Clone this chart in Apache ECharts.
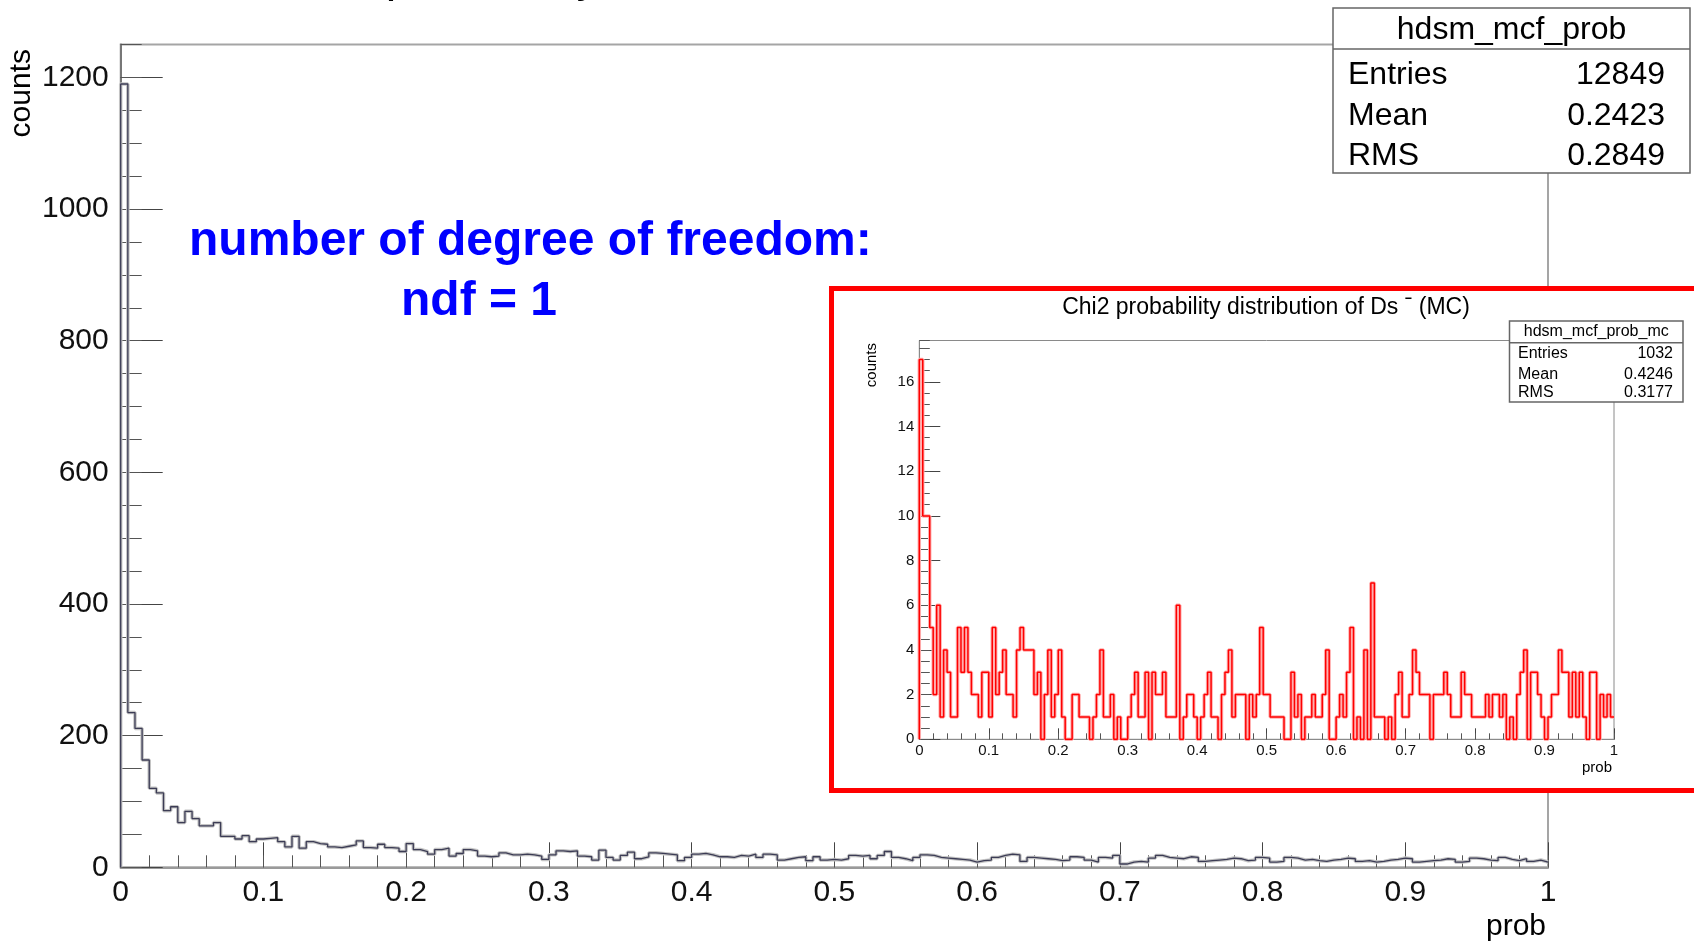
<!DOCTYPE html>
<html>
<head>
<meta charset="utf-8">
<script src="https://cdn.jsdelivr.net/npm/echarts@6/dist/echarts.min.js"></script>
<style>
html,body{margin:0;padding:0;background:#fff;}
#c{width:1694px;height:942px;}
</style>
</head>
<body>
<div id="c"></div>
<script>
// ---------------- data ----------------
const xRange = [0, 1];
const binCount = 200;

// main histogram: hdsm_mcf_prob (200 bins of 0.005)
const mainCounts = [
  1190, 235, 211, 163, 120, 113, 86, 92, 68, 85,
  74, 63, 63, 68, 47, 47, 43, 48, 39, 43,
  44, 45, 39, 31, 47, 29, 39, 36, 35, 31,
  30, 32, 34, 40, 30, 29, 35, 30, 29, 24,
  36, 27, 24, 20, 27, 29, 17, 21, 27, 25,
  17, 16, 17, 22, 19, 19, 20, 19, 17, 12,
  19, 25, 24, 25, 17, 16, 11, 26, 15, 11,
  18, 23, 13, 16, 22, 21, 20, 19, 10, 15,
  20, 21, 19, 16, 16, 15, 18, 17, 20, 15,
  20, 19, 11, 13, 15, 16, 10, 16, 11, 12,
  11, 13, 18, 17, 18, 13, 18, 24, 15, 13,
  10, 15, 19, 18, 15, 14, 13, 12, 11, 8,
  10, 11, 15, 18, 20, 19, 9, 15, 14, 13,
  12, 10, 11, 16, 15, 11, 8, 15, 14, 18,
  5, 8, 9, 8, 14, 18, 15, 14, 13, 16,
  15, 9, 10, 11, 12, 14, 13, 10, 11, 15,
  14, 8, 9, 15, 14, 11, 12, 10, 9, 11,
  12, 14, 13, 9, 10, 8, 9, 11, 12, 14,
  13, 8, 9, 10, 11, 13, 12, 8, 9, 14,
  13, 11, 10, 15, 12, 10, 13, 9, 11, 8
];

// inset histogram: hdsm_mcf_prob_mc (200 bins of 0.005)
const insetCounts = [
  17, 10, 10, 5, 2, 6, 1, 4, 3, 1,
  1, 5, 3, 5, 3, 2, 2, 1, 3, 3,
  1, 5, 2, 3, 4, 2, 2, 1, 4, 5,
  4, 4, 4, 2, 3, 0, 2, 4, 1, 2,
  4, 1, 0, 0, 2, 2, 1, 1, 1, 0,
  1, 2, 4, 1, 1, 2, 0, 1, 0, 0,
  1, 2, 3, 1, 1, 3, 0, 3, 2, 2,
  3, 1, 1, 1, 6, 0, 1, 2, 2, 1,
  0, 1, 2, 3, 1, 1, 0, 2, 3, 4,
  1, 2, 2, 2, 0, 2, 1, 2, 5, 2,
  2, 1, 1, 1, 1, 0, 0, 3, 1, 2,
  0, 1, 1, 2, 1, 1, 2, 4, 0, 0,
  1, 2, 1, 3, 5, 0, 1, 0, 4, 0,
  7, 1, 1, 1, 0, 1, 0, 2, 3, 1,
  1, 2, 4, 3, 2, 2, 2, 0, 2, 2,
  2, 3, 2, 1, 1, 1, 3, 2, 2, 1,
  1, 1, 1, 2, 1, 2, 2, 1, 2, 0,
  1, 0, 2, 3, 4, 0, 3, 3, 2, 1,
  0, 1, 2, 2, 4, 3, 3, 1, 3, 1,
  3, 1, 0, 3, 3, 0, 2, 1, 2, 1
];

const statLabels = ['Entries', 'Mean', 'RMS'];
const mainStatValues = ['12849', '0.2423', '0.2849'];
const insetStatValues = ['1032', '0.4246', '0.3177'];
const mainStatName = 'hdsm_mcf_prob';
const insetStatName = 'hdsm_mcf_prob_mc';
const mainYMax = 1250, mainYStep = 200, mainYMinor = 50;
const insetYMax = 17.85, insetYStep = 2, insetYMinor = 0.5;
const xStep = 0.1, xMinor = 0.02;
const mainTitle = 'Chi2 probability distribution of Ds\u02C9';
const insetTitle = 'Chi2 probability distribution of Ds \u02C9 (MC)';
const noteLines = ['number of degree of freedom:', 'ndf = 1'];
const xName = 'prob', yName = 'counts';

// ---------------- helpers ----------------
const FONT = "'Liberation Sans', Arial, Helvetica, sans-serif";
const binWidth = (xRange[1] - xRange[0]) / binCount;
function histLine(counts) {
  const pts = [[xRange[0], 0]];
  counts.forEach((c, i) => pts.push([xRange[0] + i * binWidth, c]));
  pts.push([xRange[1], counts[counts.length - 1]]);
  return pts;
}
const plainNum = v => String(+v.toFixed(6));

// geometry
const G0 = {left: 120.7, top: 44.5, right: 1548, bottom: 867.3};
const G1 = {left: 919.3, top: 340.5, right: 1614, bottom: 739.3};

function xAxesFor(gi, big) {
  return [
    {
      gridIndex: gi, type: 'value', min: xRange[0], max: xRange[1], interval: xStep,
      position: 'bottom', z: big ? 0 : 8,
      axisLine: {show: true, lineStyle: {color: big ? '#9a9a9a' : '#8a8a8a', width: big ? 2 : 1}},
      axisTick: {show: true, inside: true, length: big ? 25 : 11, lineStyle: {color: '#444', width: 1}},
      splitLine: {show: false},
      axisLabel: {show: true, margin: big ? 10 : 4, fontSize: big ? 30 : 15, fontFamily: FONT, color: '#111', formatter: plainNum}
    },
    {
      gridIndex: gi, type: 'value', min: xRange[0], max: xRange[1], interval: xMinor,
      position: 'bottom', z: big ? 0 : 8,
      axisLine: {show: false},
      axisTick: {show: true, inside: true, length: big ? 12 : 6, lineStyle: {color: '#555', width: 1}},
      splitLine: {show: false},
      axisLabel: {show: false}
    }
  ];
}
function yAxesFor(gi, big) {
  const max = big ? mainYMax : insetYMax;
  return [
    {
      gridIndex: gi, type: 'value', min: 0, max: max, interval: big ? mainYStep : insetYStep,
      position: 'left', z: big ? 0 : 8,
      axisLine: {show: true, lineStyle: {color: big ? '#777' : '#8a8a8a', width: big ? 2 : 1}},
      axisTick: {show: true, inside: true, length: big ? 42 : 21, lineStyle: {color: '#444', width: 1}},
      splitLine: {show: false},
      axisLabel: {show: true, showMaxLabel: false, margin: big ? 12 : 5, fontSize: big ? 30 : 15, fontFamily: FONT, color: '#111', formatter: plainNum}
    },
    {
      gridIndex: gi, type: 'value', min: 0, max: max, interval: big ? mainYMinor : insetYMinor,
      position: 'left', z: big ? 0 : 8,
      axisLine: {show: false},
      axisTick: {show: true, inside: true, length: big ? 21 : 10.5, lineStyle: {color: '#555', width: 1}},
      splitLine: {show: false},
      axisLabel: {show: false}
    }
  ];
}

function txt(x, y, text, size, opt) {
  opt = opt || {};
  return {
    type: 'text', x: x, y: y, z: opt.z || 20, rotation: opt.rotation || 0,
    style: {
      text: text, fontSize: size, fontFamily: FONT, fontWeight: opt.bold ? 'bold' : 'normal',
      fill: opt.color || '#000', align: opt.align || 'left', verticalAlign: opt.va || 'middle'
    }
  };
}
function statsBox(x, y, w, h, sepY, name, labels, values, size, labX, valX, rowYs, nameY, z) {
  const els = [
    {type: 'rect', z: z, shape: {x: x, y: y, width: w, height: h}, style: {fill: '#fff', stroke: '#666', lineWidth: 1.5}},
    {type: 'line', z: z, shape: {x1: x, y1: sepY, x2: x + w, y2: sepY}, style: {stroke: '#666', lineWidth: 1.5}},
    txt(x + w / 2, nameY, name, size, {align: 'center', z: z + 1})
  ];
  labels.forEach((l, i) => {
    els.push(txt(labX, rowYs[i], l, size, {z: z + 1}));
    els.push(txt(valX, rowYs[i], values[i], size, {align: 'right', z: z + 1}));
  });
  return els;
}

const W = 1694, H = 942;
const option = {
  animation: false,
  backgroundColor: '#fff',
  grid: [
    {left: G0.left, top: G0.top, width: G0.right - G0.left, height: G0.bottom - G0.top,
     show: true, borderColor: '#a5a5a5', borderWidth: 2, backgroundColor: 'transparent', z: 0},
    {left: G1.left, top: G1.top, width: G1.right - G1.left, height: G1.bottom - G1.top,
     show: true, borderColor: '#8a8a8a', borderWidth: 1, backgroundColor: '#fff', z: 6}
  ],
  xAxis: [].concat(xAxesFor(0, true), xAxesFor(1, false)),
  yAxis: [].concat(yAxesFor(0, true), yAxesFor(1, false)),
  series: [
    {type: 'line', xAxisIndex: 0, yAxisIndex: 0, step: 'end', symbol: 'none', z: 2,
     lineStyle: {color: '#c4c4c4', width: 3.5}, data: histLine(mainCounts)},
    {type: 'line', xAxisIndex: 0, yAxisIndex: 0, step: 'end', symbol: 'none', z: 3,
     lineStyle: {color: '#3c3c55', width: 1.3}, data: histLine(mainCounts)},
    {type: 'line', xAxisIndex: 2, yAxisIndex: 2, step: 'end', symbol: 'none', z: 9,
     lineStyle: {color: '#ffb0b0', width: 3.5}, data: histLine(insetCounts)},
    {type: 'line', xAxisIndex: 2, yAxisIndex: 2, step: 'end', symbol: 'none', z: 10,
     lineStyle: {color: '#ff0000', width: 1.5}, data: histLine(insetCounts)}
  ],
  graphic: {elements: [].concat(
    [
      // main title (cut off by the top edge) / axis names
      txt(276, -21.5, mainTitle, 47, {z: 1}),
      txt(22, 49, yName, 30, {rotation: Math.PI / 2, align: 'right'}),
      txt(1546, 927, xName, 30, {align: 'right'}),
      // annotation
      txt(189, 242, noteLines[0], 48, {bold: true, color: '#0000ff'}),
      txt(401, 302, noteLines[1], 48, {bold: true, color: '#0000ff'}),
      // inset red frame (white inside)
      {type: 'rect', z: 5, shape: {x: 831.5, y: 288.5, width: 900, height: 502},
       style: {fill: '#fff', stroke: '#ff0000', lineWidth: 5}},
      txt(1266, 308, insetTitle, 23, {align: 'center', z: 12}),
      txt(872, 343, yName, 15, {rotation: Math.PI / 2, align: 'right', z: 12}),
      txt(1612, 768, xName, 15, {align: 'right', z: 12})
    ],
    statsBox(1333, 8, 357, 165, 49, mainStatName, statLabels, mainStatValues, 32,
             1348, 1665, [75, 116, 156], 30.5, 20),
    statsBox(1509.5, 321, 173.5, 81, 342.7, insetStatName, statLabels, insetStatValues, 16,
             1518, 1673, [354, 374.5, 393], 331.5, 20)
  )}
};

const chart = echarts.init(document.getElementById('c'), null, {renderer: 'canvas', width: W, height: H});
chart.setOption(option);
</script>
</body>
</html>
